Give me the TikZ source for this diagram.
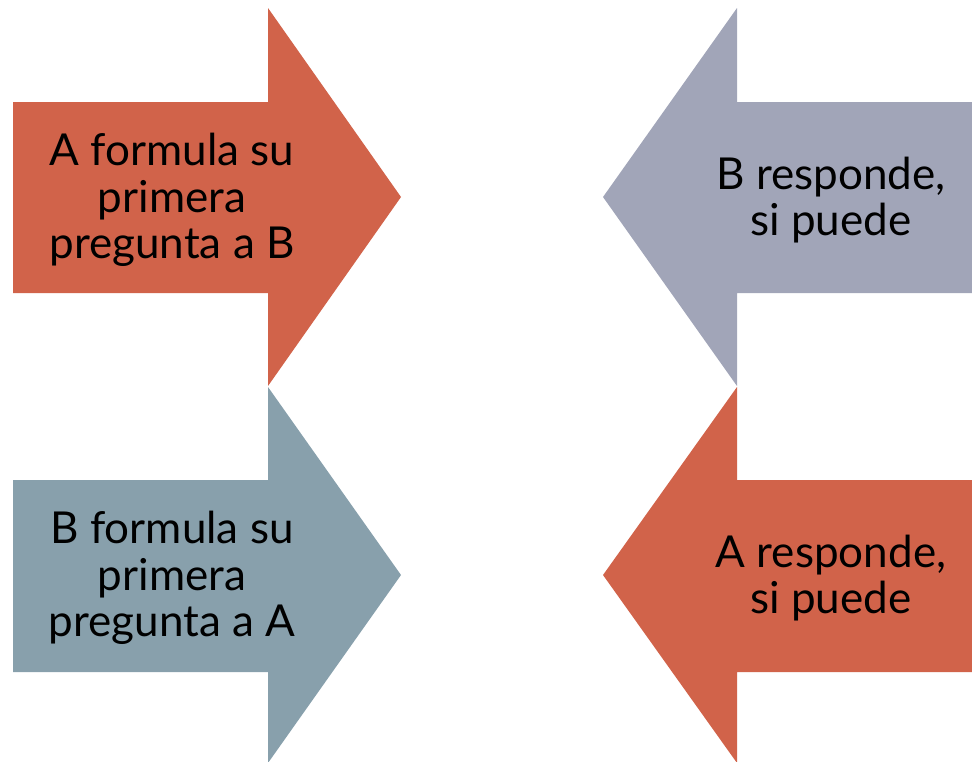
\documentclass[tikz,border=0pt]{standalone}
\usepackage{fontspec}
\setmainfont{Lato}
\definecolor{arrowred}{RGB}{209,99,74}
\definecolor{arrowlilac}{RGB}{161,165,184}
\definecolor{arrowslate}{RGB}{136,160,172}
\begin{document}
\begin{tikzpicture}[x=1pt,y=-1pt,
  label/.style={font=\fontsize{44}{46.5}\selectfont, align=center, text=black, inner sep=0pt}]
\useasboundingbox (0,0) rectangle (972,761);
% top-left arrow, pointing right
\fill[arrowred] (13,102) -- (268,102) -- (268,8) -- (401,197) -- (268,386) -- (268,293) -- (13,293) -- cycle;
% top-right arrow, pointing left
\fill[arrowlilac] (972,102) -- (737,102) -- (737,8) -- (603,197) -- (737,386) -- (737,293) -- (972,293) -- cycle;
% bottom-left arrow, pointing right
\fill[arrowslate] (13,480) -- (268,480) -- (268,387) -- (401,575) -- (268,763) -- (268,672) -- (13,672) -- cycle;
% bottom-right arrow, pointing left
\fill[arrowred] (972,480) -- (737,480) -- (737,387) -- (603,575) -- (737,763) -- (737,672) -- (972,672) -- cycle;
\node[label] (t1) at (172,200) {A formula su\\primera\\pregunta a B};
\node[label] (t2) at (831,200) {B responde,\\si puede};
\node[label] (t3) at (172,578) {B formula su\\primera\\pregunta a A};
\node[label] (t4) at (831,578) {A responde,\\si puede};
\end{tikzpicture}
\end{document}
